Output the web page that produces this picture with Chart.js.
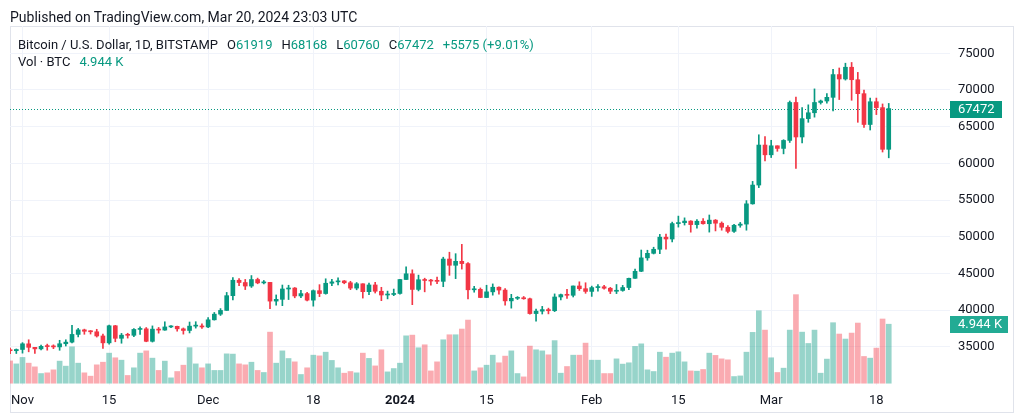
<!DOCTYPE html>
<html>
<head>
<meta charset="utf-8">
<script src="https://cdn.jsdelivr.net/npm/chart.js@4.4.1/dist/chart.umd.min.js"></script>
<style>
body { margin: 0; background: #fff; font-family: Roboto, sans-serif; color: #131722; }
#wrap { position: relative; width: 1024px; height: 415px; overflow: hidden; }
#frame { position: absolute; left: 10px; top: 26px; width: 1004px; height: 387px; border: 1px solid #e0e3eb; box-sizing: border-box; }
canvas { position: absolute; left: 0; top: 0; }
.pub { position: absolute; left: 10px; top: 9px; font-size: 14px; line-height: 16px; white-space: nowrap; }
.leg { position: absolute; left: 18px; font-size: 13px; line-height: 16px; white-space: nowrap; }
.leg b { font-weight: normal; color: #089981; }
.leg span { margin-left: 9px; }
</style>
</head>
<body>
<div id="wrap">
  <div id="frame"></div>
  <canvas id="myChart" width="1024" height="415"></canvas>
  <div class="pub">Published on TradingView.com, Mar 20, 2024 23:03 UTC</div>
  <div class="leg" style="top:37px">Bitcoin / U.S. Dollar, 1D, BITSTAMP<span>O<b>61919</b></span><span>H<b>68168</b></span><span>L<b>60760</b></span><span>C<b>67472</b></span><span><b>+5575 (+9.01%)</b></span></div>
  <div class="leg" style="top:54px">Vol · BTC<span><b>4.944 K</b></span></div>
</div>
<script>
// daily candles, Oct 30 2023 .. Mar 20 2024
var firstDay = '2023-10-30';

var open = [
  34520, 34480, 34650, 35420, 34940, 34730, 35080, 35040, 35000, 35430,
  35650, 36700, 37320, 37130, 37060, 36490, 35550, 37880, 36170, 36600,
  36580, 37380, 37460, 35760, 37420, 37290, 37720, 37800, 37460, 37240,
  37830, 37850, 37720, 38690, 39460, 39970, 41980, 44080, 43770, 43290,
  44180, 43720, 43790, 41240, 41480, 42890, 43020, 41940, 42260, 41370,
  42660, 42270, 43670, 43860, 43990, 43740, 43010, 43600, 42520, 43440,
  42580, 42070, 42140, 42280, 44180, 44960, 42830, 44150, 44050, 43970,
  43930, 46970, 46120, 46660, 46350, 42780, 42840, 41730, 42500, 43130,
  42740, 41270, 41620, 41680, 41560, 39540, 39870, 40080, 39930, 41800,
  42120, 42030, 43300, 42930, 42560, 43080, 43190, 42990, 42580, 42690,
  43090, 44340, 45300, 47130, 47750, 48300, 49950, 49700, 51800, 51920,
  52140, 51660, 52120, 51780, 52270, 51850, 51300, 50740, 51570, 51730,
  54490, 57050, 62500, 61170, 62400, 62040, 63130, 68300, 63600, 66100,
  66900, 68300, 68500, 69000, 72100, 71500, 73100, 71400, 69500, 65300,
  68400, 67600, 61919
];
var high = [
  34850, 34720, 35580, 35970, 34950, 35250, 35380, 35280, 35900, 35970,
  37950, 37520, 37420, 37230, 37400, 36760, 37980, 37930, 36840, 36860,
  37500, 37750, 37640, 37860, 37650, 38420, 37900, 37830, 37580, 38390,
  38430, 38150, 38980, 39690, 40220, 42420, 44460, 44300, 44190, 44720,
  44370, 44050, 43800, 42080, 43430, 43400, 43090, 42700, 42420, 42760,
  43480, 44280, 44220, 44400, 44040, 43940, 43770, 43600, 43680, 43800,
  43120, 42600, 42880, 44200, 45900, 45500, 44780, 44360, 44220, 44500,
  47220, 47900, 47700, 48970, 46500, 43250, 43030, 43400, 43580, 43190,
  42930, 42160, 41860, 41870, 41660, 40140, 40520, 40280, 42220, 42200,
  42840, 43300, 43870, 43740, 43280, 43480, 43380, 43110, 43500, 43380,
  44380, 45600, 48200, 48170, 48580, 50330, 50370, 52000, 52820, 52580,
  52200, 52350, 52480, 52970, 52350, 52030, 51540, 51700, 51960, 54930,
  57550, 63900, 63640, 63150, 62400, 63230, 68500, 69050, 67600, 67980,
  70150, 68630, 69500, 72800, 73000, 73650, 73750, 72400, 70000, 68900,
  68900, 68100, 68168
];
var low = [
  34080, 34100, 34150, 34330, 34100, 34580, 34550, 34760, 34540, 35120,
  35550, 36360, 36720, 36750, 36340, 34800, 35360, 35700, 35500, 36200,
  36380, 36700, 35700, 35660, 36870, 37260, 37620, 37140, 36740, 36900,
  37560, 37520, 37620, 38650, 39280, 39970, 41410, 43350, 42810, 43100,
  43600, 43580, 40200, 40680, 40620, 41450, 41690, 41700, 41250, 40550,
  41850, 42180, 43330, 43440, 43600, 42800, 42780, 41650, 42110, 42340,
  41300, 41540, 41980, 42180, 44180, 40750, 42630, 42500, 43420, 43620,
  43200, 44750, 44300, 45600, 41520, 42450, 41700, 41720, 42050, 42200,
  40700, 40280, 41450, 41490, 39450, 38510, 39480, 39500, 39810, 41400,
  41620, 41800, 42690, 42300, 41880, 42580, 42880, 42260, 42260, 42580,
  42780, 44340, 45250, 46800, 47660, 47700, 48300, 49300, 51320, 51600,
  50630, 51170, 51720, 50640, 50800, 50900, 50540, 50600, 51300, 50900,
  54440, 56700, 60350, 60800, 61650, 61300, 62850, 59300, 62800, 65600,
  66300, 68080, 68200, 67150, 68700, 71350, 68600, 65600, 64900, 64550,
  66650, 61550, 60760
];
var close = [
  34480, 34650, 35420, 34940, 34730, 35080, 35040, 35000, 35430, 35650,
  36700, 37320, 37130, 37060, 36490, 35550, 37880, 36170, 36600, 36580,
  37380, 37460, 35760, 37420, 37290, 37720, 37800, 37460, 37240, 37830,
  37850, 37720, 38690, 39460, 39970, 41980, 44080, 43770, 43290, 44180,
  43720, 43790, 41240, 41480, 42890, 43020, 41940, 42260, 41370, 42660,
  42270, 43670, 43860, 43990, 43740, 43010, 43600, 42520, 43440, 42580,
  42070, 42140, 42280, 44180, 44960, 42830, 44150, 44050, 43970, 43930,
  46970, 46120, 46660, 46350, 42780, 42840, 41730, 42500, 43130, 42740,
  41270, 41620, 41680, 41560, 39540, 39870, 40080, 39930, 41800, 42120,
  42030, 43300, 42930, 42560, 43080, 43190, 42990, 42580, 42690, 43090,
  44340, 45300, 47130, 47750, 48300, 49950, 49700, 51800, 51920, 52140,
  51660, 52120, 51780, 52270, 51850, 51300, 50740, 51570, 51730, 54490,
  57050, 62500, 61170, 62400, 62040, 63130, 68300, 63600, 66100, 66900,
  68300, 68500, 69000, 72100, 71500, 73100, 71400, 69500, 65300, 68400,
  67600, 61919, 67472
];
var volume = [
  1870, 1620, 2160, 1680, 1370, 810, 870, 1120, 1850, 1430,
  3050, 1680, 870, 590, 1540, 1760, 2520, 2130, 1930, 650,
  1290, 2520, 2710, 2100, 1070, 1850, 450, 980, 1510, 2980,
  1620, 1290, 1620, 1070, 1070, 2460, 2440, 1620, 1540, 1760,
  1070, 900, 4280, 1680, 2710, 2070, 1790, 730, 1290, 2350,
  2290, 2600, 1910, 1290, 840, 980, 870, 2520, 2080, 1450,
  2800, 950, 1230, 1680, 3970, 4030, 2970, 3220, 1030, 1790,
  3640, 4060, 4060, 4540, 5290, 1030, 1290, 1510, 2350, 1710,
  2270, 2710, 810, 530, 3110, 2800, 2710, 2380, 3570, 840,
  1400, 2350, 2350, 3360, 1930, 1930, 810, 810, 2040, 1600,
  1710, 3080, 3300, 1120, 980, 2600, 2180, 2520, 2630, 1790,
  1030, 1010, 1150, 2520, 2330, 2040, 1960, 560, 610, 2600,
  4260, 6070, 4450, 2130, 900, 1260, 4450, 7420, 4280, 3330,
  4450, 840, 2020, 5070, 4120, 3700, 4200, 5040, 2240, 2100,
  2940, 5380, 4944
];

var tickDays = ['2023-11-01', '2023-11-15', '2023-12-01', '2023-12-18', '2024-01-01',
                '2024-01-15', '2024-02-01', '2024-02-15', '2024-03-01', '2024-03-18'];
var tickLabels = ['Nov', '15', 'Dec', '18', '2024', '15', 'Feb', '15', 'Mar', '18'];
var priceTicks = [35000, 40000, 45000, 50000, 55000, 60000, 65000, 70000, 75000];

var UP = '#089981', DOWN = '#f23645';
var UP_VOL = 'rgba(8,153,129,0.42)', DOWN_VOL = 'rgba(242,54,69,0.42)';

// day labels for each candle
var days = [];
var d0 = new Date(firstDay + 'T00:00:00Z');
for (var i = 0; i < close.length; i++) {
  var d = new Date(d0.getTime() + i * 86400000);
  days.push(d.toISOString().slice(0, 10));
}
var tickIdx = tickDays.map(function(t) { return days.indexOf(t); });

var bodies = [], wicks = [], vols = [], candleColors = [], volColors = [];
for (var i = 0; i < close.length; i++) {
  var up = close[i] >= open[i];
  bodies.push({ x: i, y: [open[i], close[i]] });
  wicks.push({ x: i, y: [low[i], high[i]] });
  vols.push({ x: i, y: volume[i] });
  candleColors.push(up ? UP : DOWN);
  volColors.push(up ? UP_VOL : DOWN_VOL);
}

var lastPrice = {
  id: 'lastPrice',
  beforeDatasetsDraw: function(chart) {
    var c = chart.ctx, a = chart.chartArea;
    var py = Math.round(chart.scales.y.getPixelForValue(close[close.length - 1])) + 0.5;
    c.save();
    c.strokeStyle = UP;
    c.lineWidth = 1;
    c.setLineDash([1, 2]);
    c.beginPath();
    c.moveTo(a.left, py);
    c.lineTo(a.right, py);
    c.stroke();
    c.restore();
  },
  afterDraw: function(chart) {
    var c = chart.ctx, a = chart.chartArea;
    var last = close.length - 1;
    var py = Math.round(chart.scales.y.getPixelForValue(close[last]));
    var vy = Math.round(chart.scales.vol.getPixelForValue(volume[last]));
    c.save();
    c.font = '13px Roboto';
    c.textBaseline = 'middle';
    c.fillStyle = UP;
    c.fillRect(a.right, py - 8, 52, 17);
    c.fillStyle = '#fff';
    c.fillText(String(close[last]), a.right + 8, py + 1);
    c.fillStyle = '#22ab94';
    c.fillRect(a.right, vy - 8, 58, 17);
    c.fillStyle = '#fff';
    c.fillText((volume[last] / 1000).toFixed(3) + ' K', a.right + 8, vy + 1);
    c.restore();
  }
};

window.onload = function() {
  init();
};

function init() {
  var ctx = document.getElementById('myChart').getContext('2d');
  new Chart(ctx, {
    type: 'bar',
    data: {
      datasets: [
        { label: 'Body', data: bodies, backgroundColor: candleColors, barThickness: 4, minBarLength: 1, grouped: false, order: 1, yAxisID: 'y' },
        { label: 'Wick', data: wicks, backgroundColor: candleColors, barThickness: 1, grouped: false, order: 2, yAxisID: 'y' },
        { label: 'Volume', data: vols, backgroundColor: volColors, barThickness: 5, grouped: false, order: 3, yAxisID: 'vol' }
      ]
    },
    options: {
      responsive: false,
      animation: false,
      layout: { padding: { left: 10, right: 11, top: 26, bottom: 3 } },
      plugins: { legend: { display: false }, tooltip: { enabled: false } },
      scales: {
        x: {
          type: 'linear',
          min: -0.02,
          max: 151.9,
          offset: false,
          grid: { offset: false, color: '#f0f3fa', drawTicks: false },
          border: { display: false },
          afterBuildTicks: function(s) { s.ticks = tickIdx.map(function(v) { return { value: v }; }); },
          afterFit: function(s) { s.height = 27; },
          ticks: {
            autoSkip: false,
            maxRotation: 0,
            padding: 8,
            color: '#131722',
            font: function(c) {
              return { family: 'Roboto', size: 13, weight: (c.tick && c.tick.value === tickIdx[4]) ? 'bold' : 'normal' };
            },
            callback: function(v, idx) { return tickLabels[idx]; }
          }
        },
        y: {
          position: 'right',
          min: 29809,
          max: 78719,
          grid: { color: '#f0f3fa', drawTicks: false },
          border: { display: false },
          afterBuildTicks: function(s) { s.ticks = priceTicks.map(function(v) { return { value: v }; }); },
          afterFit: function(s) { s.width = 63; },
          ticks: { padding: 8, color: '#131722', font: { family: 'Roboto', size: 13 }, callback: function(v) { return String(v); } }
        },
        vol: { display: false, min: -150, max: 29930, grid: { display: false } }
      }
    },
    plugins: [lastPrice]
  });
}
</script>
</body>
</html>
